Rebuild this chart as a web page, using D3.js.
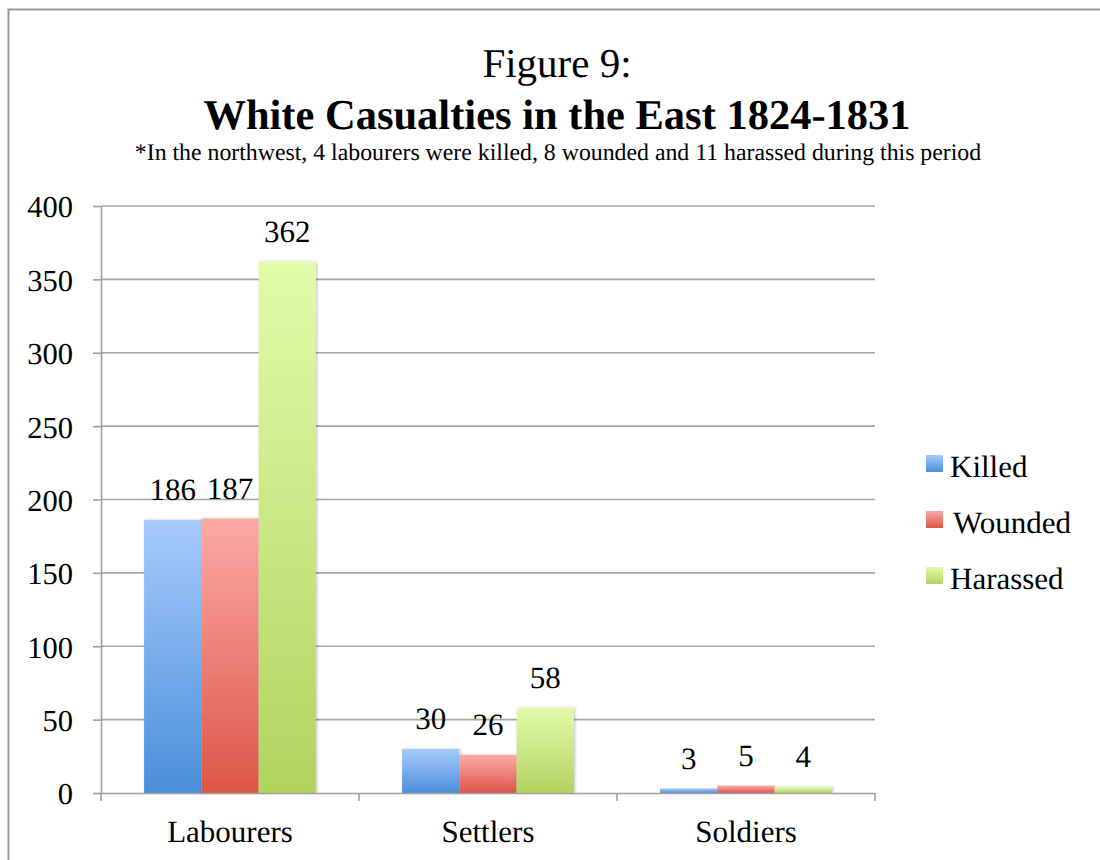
<!DOCTYPE html>
<html>
<head>
<meta charset="utf-8">
<script src="https://cdn.jsdelivr.net/npm/d3@7"></script>
<style>
  html, body { margin: 0; padding: 0; background: #fff; }
  svg { display: block; font-family: "Liberation Serif", "Times New Roman", serif; text-rendering: geometricPrecision; }
  svg text { font-family: "Liberation Serif", "Times New Roman", serif; fill: #000; }
</style>
</head>
<body>
<svg id="chart" width="1100" height="860"></svg>
<script>
// Casualty counts by group, 1824-1831
const categories = ["Labourers", "Settlers", "Soldiers"];
const seriesNames = ["Killed", "Wounded", "Harassed"];
const killed = [186, 30, 3];
const wounded = [187, 26, 5];
const harassed = [362, 58, 4];
const yTicks = [0, 50, 100, 150, 200, 250, 300, 350, 400];

const seriesValues = [killed, wounded, harassed];
const gradStops = [
  ["#a6cbfc", "#4a8fda"],
  ["#fcaaa6", "#dc5647"],
  ["#e1fcaa", "#b2d35f"]
];

const svg = d3.select("#chart");

// outer frame
svg.append("rect")
  .attr("x", 8.5).attr("y", 9.5)
  .attr("width", 1200).attr("height", 1000)
  .attr("fill", "none").attr("stroke", "#9a9a9a").attr("stroke-width", 2);

// titles
svg.append("text").attr("x", 557).attr("y", 77)
  .attr("text-anchor", "middle").attr("font-size", 41).text("Figure 9:");
svg.append("text").attr("x", 557).attr("y", 128.5)
  .attr("text-anchor", "middle").attr("font-size", 42.5).attr("font-weight", "bold")
  .text("White Casualties in the East 1824-1831");
svg.append("text").attr("x", 558).attr("y", 160)
  .attr("text-anchor", "middle").attr("font-size", 23.8)
  .text("*In the northwest, 4 labourers were killed, 8 wounded and 11 harassed during this period");

// gradients
const defs = svg.append("defs");
seriesNames.forEach((s, i) => {
  const g = defs.append("linearGradient").attr("id", "grad" + i)
    .attr("x1", 0).attr("y1", 0).attr("x2", 0).attr("y2", 1);
  g.append("stop").attr("offset", "0%").attr("stop-color", gradStops[i][0]);
  g.append("stop").attr("offset", "100%").attr("stop-color", gradStops[i][1]);
});
const shadow = defs.append("filter").attr("id", "shadow")
  .attr("x", "-20%").attr("y", "-5%").attr("width", "140%").attr("height", "110%");
shadow.append("feDropShadow").attr("dx", 1).attr("dy", 0).attr("stdDeviation", 1.5)
  .attr("flood-color", "#000").attr("flood-opacity", 0.25);

const plot = { left: 101, right: 875, top: 206, bottom: 793 };

const y = d3.scaleLinear().domain([0, 400]).range([plot.bottom, plot.top]);
const x0 = d3.scaleBand().domain(categories).range([plot.left, plot.right]).padding(0);
const bw = x0.bandwidth();
const x1 = d3.scaleBand().domain(seriesNames).range([bw * 0.167, bw * 0.833]).padding(0);

// gridlines
svg.append("g").selectAll("line").data(yTicks.filter(d => d > 0)).join("line")
  .attr("x1", plot.left).attr("x2", plot.right)
  .attr("y1", d => y(d)).attr("y2", d => y(d))
  .attr("stroke", "#a6a6a6").attr("stroke-width", 1.6);

// y axis
const yAxis = svg.append("g").attr("transform", `translate(${plot.left},0)`)
  .call(d3.axisLeft(y).tickValues(yTicks).tickSize(8).tickPadding(20).tickSizeOuter(0));
yAxis.attr("font-family", null).attr("font-size", null);
yAxis.select(".domain").attr("stroke", "#a0a0a0").attr("stroke-width", 1.6);
yAxis.selectAll(".tick line").attr("stroke", "#a0a0a0").attr("stroke-width", 1.6);
yAxis.selectAll(".tick text").attr("font-size", 30.5).attr("dy", "0.36em");

// bars
const groups = svg.append("g").selectAll("g").data(categories).join("g")
  .attr("transform", d => `translate(${x0(d)},0)`);

groups.each(function (cat, ci) {
  const g = d3.select(this);
  seriesNames.forEach((s, si) => {
    const v = seriesValues[si][ci];
    g.append("rect")
      .attr("x", x1(s)).attr("width", x1.bandwidth())
      .attr("y", y(v)).attr("height", y(0) - y(v))
      .attr("fill", `url(#grad${si})`)
      .attr("filter", "url(#shadow)");
  });
  seriesNames.forEach((s, si) => {
    const v = seriesValues[si][ci];
    g.append("text")
      .attr("x", x1(s) + x1.bandwidth() / 2)
      .attr("y", y(v) - 20)
      .attr("text-anchor", "middle").attr("font-size", 31)
      .text(v);
  });
});

// x axis
const xAxis = svg.append("g").attr("transform", `translate(0,${plot.bottom})`)
  .call(d3.axisBottom(x0).tickSize(0).tickPadding(49).tickSizeOuter(0));
xAxis.attr("font-family", null).attr("font-size", null);
xAxis.select(".domain").attr("stroke", "#a0a0a0").attr("stroke-width", 1.6);
xAxis.selectAll(".tick text").attr("font-size", 31).attr("dy", "0");
// category boundary ticks
xAxis.append("g").selectAll("line")
  .data(categories.map(c => x0(c)).concat([plot.right])).join("line")
  .attr("x1", d => d).attr("x2", d => d).attr("y1", 0).attr("y2", 8)
  .attr("stroke", "#a0a0a0").attr("stroke-width", 1.6);

// legend
const legend = svg.append("g").selectAll("g").data(seriesNames).join("g")
  .attr("transform", (d, i) => `translate(926,${455 + i * 56})`);
legend.append("rect").attr("width", 17).attr("height", 17)
  .attr("fill", (d, i) => `url(#grad${i})`);
legend.append("text").attr("x", (d, i) => i === 1 ? 27 : 24).attr("y", 22)
  .attr("font-size", 31).text(d => d);
</script>
</body>
</html>
